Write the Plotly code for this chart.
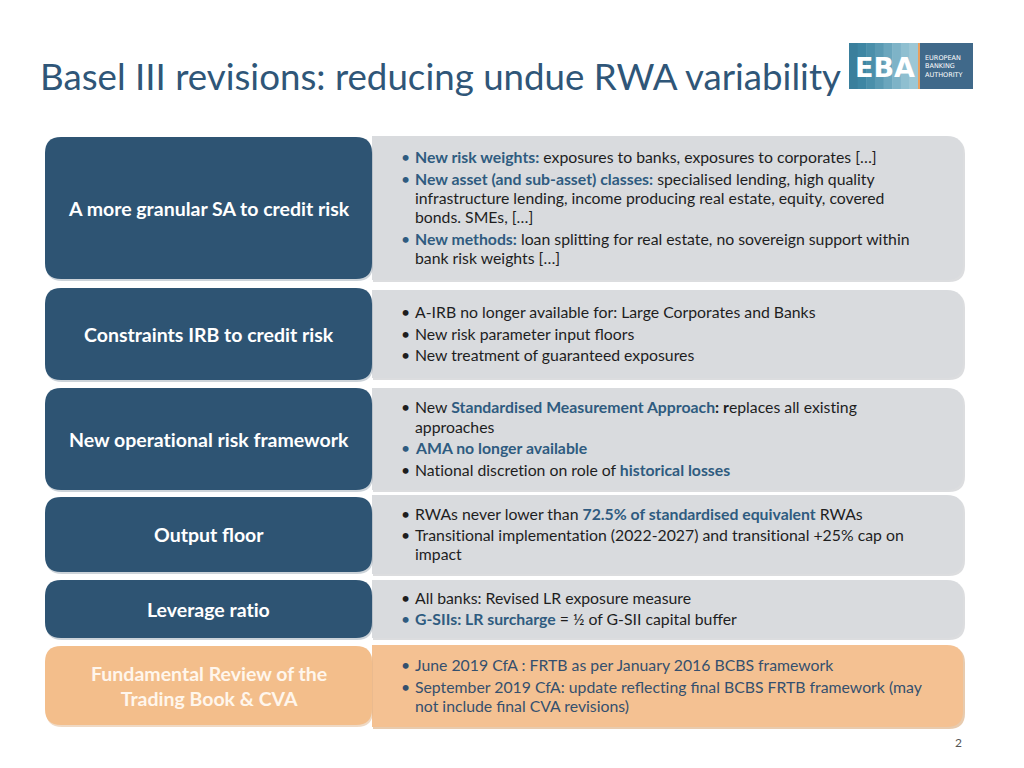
import re
import plotly.graph_objects as go

# ---------------- data ----------------
title_text = "Basel III revisions: reducing undue RWA variability"
page_number = "2"

categories = [
    "A more granular SA to credit risk",
    "Constraints IRB to credit risk",
    "New operational risk framework",
    "Output floor",
    "Leverage ratio",
    "Fundamental Review of the<br>Trading Book & CVA",
]

# [[...]] marks highlighted (bold blue) text
bullets_sa = [
    ["[[New risk weights:]] exposures to banks, exposures to corporates […]"],
    ["[[New asset (and sub-asset) classes:]] specialised lending, high quality",
     "infrastructure lending, income producing real estate, equity, covered",
     "bonds. SMEs, […]"],
    ["[[New methods:]] loan splitting for real estate, no sovereign support within",
     "bank risk weights […]"],
]
bullets_irb = [
    ["A-IRB no longer available for: Large Corporates and Banks"],
    ["New risk parameter input floors"],
    ["New treatment of guaranteed exposures"],
]
bullets_oprisk = [
    ["New [[Standardised Measurement Approach]]<b>: r</b>eplaces all existing",
     "approaches"],
    ["[[AMA no longer available]]"],
    ["National discretion on role of [[historical losses]]"],
]
bullets_floor = [
    ["RWAs never lower than [[72.5% of standardised equivalent]] RWAs"],
    ["Transitional implementation (2022-2027) and transitional +25% cap on",
     "impact"],
]
bullets_lr = [
    ["All banks: Revised LR exposure measure"],
    ["[[G-SIIs: LR surcharge]] = ½ of G-SII capital buffer"],
]
bullets_frtb = [
    ["June 2019 CfA : FRTB as per January 2016 BCBS framework"],
    ["September 2019 CfA: update reflecting final BCBS FRTB framework (may",
     "not include final CVA revisions)"],
]
row_bullets = [bullets_sa, bullets_irb, bullets_oprisk, bullets_floor, bullets_lr, bullets_frtb]

# ---------------- layout / style ----------------
W, H = 1024, 768
PAGE_OFF = 8  # default body margin of the html page
FONT = "Lato"
DARK_BLUE = "#2E5473"
GREY = "#D9DBDE"
ORANGE_L = "#F3BE8B"
ORANGE_R = "#F4C192"
HL_BLUE = "#2F5B80"
BODY = "#1E1E1E"
TITLE_COL = "#2F5678"
BODY_SIZE = 15.8
LABEL_SIZE = 19.5

left_boxes = [(137, 279), (288, 380), (388, 490), (497, 572), (580, 638), (646, 725)]
right_boxes = [(136, 280), (290, 378), (388, 490), (495, 574), (580, 638), (645, 727)]
LX0, LX1 = 45, 372
RX0, RX1 = 372, 963


def nolig(s):
    # break the Lato "ti" ligature
    return s.replace("ti", "t\u200ci")


def rrect(x0, y0, x1, y1, r, left_round=True):
    r = min(r, (y1 - y0) / 2)
    if left_round:
        p = (f"M{x0+r},{y0} L{x1-r},{y0} Q{x1},{y0} {x1},{y0+r} L{x1},{y1-r} Q{x1},{y1} {x1-r},{y1} "
             f"L{x0+r},{y1} Q{x0},{y1} {x0},{y1-r} L{x0},{y0+r} Q{x0},{y0} {x0+r},{y0} Z")
    else:
        p = (f"M{x0},{y0} L{x1-r},{y0} Q{x1},{y0} {x1},{y0+r} L{x1},{y1-r} Q{x1},{y1} {x1-r},{y1} "
             f"L{x0},{y1} Z")
    return p


def markup(s):
    s = re.sub(r"\[\[(.+?)\]\]", lambda m: f"<b><span style='color:{HL_BLUE}'>{m.group(1)}</span></b>", s)
    return nolig(s)


shapes = []
annotations = []

n = len(categories)
for i in range(n):
    orange = i == n - 1
    lt, lb = left_boxes[i]
    rt, rb = right_boxes[i]
    lcol = ORANGE_L if orange else DARK_BLUE
    rcol = ORANGE_R if orange else GREY
    shapes.append(dict(type="path", path=rrect(RX0 + 1, rt + 2, RX1 + 2, rb + 2, 16, False),
                       fillcolor="#C4C6C9" if not orange else "#D8A878", line=dict(width=0), layer="below",
                       xref="x", yref="y", opacity=0.6))
    shapes.append(dict(type="path", path=rrect(RX0, rt, RX1, rb, 16, False),
                       fillcolor=rcol, line=dict(width=0), layer="below", xref="x", yref="y"))
    shapes.append(dict(type="path", path=rrect(LX0 + 1, lt + 2, LX1 + 1, lb + 2, 16),
                       fillcolor="#9AA7B3" if not orange else "#E0B48A", line=dict(width=0), layer="below",
                       xref="x", yref="y", opacity=0.5))
    shapes.append(dict(type="path", path=rrect(LX0, lt, LX1, lb, 16),
                       fillcolor=lcol, line=dict(width=0), layer="below", xref="x", yref="y"))

    annotations.append(dict(x=(LX0 + LX1) / 2, y=(lt + lb) / 2, xref="x", yref="y",
                            text=f"<b>{nolig(categories[i])}</b>", showarrow=False,
                            font=dict(family=FONT, size=LABEL_SIZE, color="white" if not orange else "#FFF6EC"),
                            xanchor="center", yanchor="middle", align="center"))

    bl = row_bullets[i]
    within, between = 19.2, 21.6
    ys = []
    y = 0
    for bi, b in enumerate(bl):
        if bi > 0:
            y += between
        for li, _ in enumerate(b):
            if li > 0:
                y += within
            ys.append(y)
    total = ys[-1]
    cy = (rt + rb) / 2 - 1
    off = cy - total / 2
    k = 0
    txt_col = "#34506E" if orange else BODY
    for b in bl:
        first = True
        for line in b:
            yy = ys[k] + off
            k += 1
            if first:
                bcol = HL_BLUE if line.startswith("[[") else txt_col
                annotations.append(dict(x=405.5, y=yy, xref="x", yref="y", text="•", showarrow=False,
                                        font=dict(family=FONT, size=BODY_SIZE, color=bcol),
                                        xanchor="center", yanchor="middle"))
                first = False
            annotations.append(dict(x=413, y=yy, xref="x", yref="y", text=markup(line),
                                    showarrow=False, font=dict(family=FONT, size=BODY_SIZE, color=txt_col),
                                    xanchor="left", yanchor="middle", align="left"))

annotations.append(dict(x=38, y=76, xref="x", yref="y", text=title_text, showarrow=False,
                        font=dict(family=FONT, size=36.7, color=TITLE_COL), xanchor="left", yanchor="middle"))
annotations.append(dict(x=958, y=742, xref="x", yref="y", text=page_number, showarrow=False,
                        font=dict(family=FONT, size=12, color="#555555"), xanchor="center", yanchor="middle"))

# logo
logo_x0, logo_x1, logo_y0, logo_y1 = 849, 973, 43, 89
grad = ["#3A7F9C", "#3E86A3", "#4A8FAA", "#5A9AB3", "#6BA6BD", "#7EB3C7", "#8FBFD0", "#9CC7D6"]
gw = (918 - logo_x0) / len(grad)
for j, c in enumerate(grad):
    shapes.append(dict(type="rect", x0=logo_x0 + j * gw, x1=logo_x0 + (j + 1) * gw + 0.5, y0=logo_y0, y1=logo_y1,
                       fillcolor=c, line=dict(width=0), xref="x", yref="y", layer="below"))
shapes.append(dict(type="rect", x0=918, x1=920, y0=logo_y0, y1=logo_y1, fillcolor="#E8A060",
                   line=dict(width=0), xref="x", yref="y", layer="below"))
shapes.append(dict(type="rect", x0=920, x1=logo_x1, y0=logo_y0, y1=logo_y1, fillcolor="#40698A",
                   line=dict(width=0), xref="x", yref="y", layer="below"))
annotations.append(dict(x=885, y=67, xref="x", yref="y", text="<b>EBA</b>", showarrow=False,
                        font=dict(family="DejaVu Sans", size=27, color="white"), xanchor="center", yanchor="middle"))
annotations.append(dict(x=923, y=66, xref="x", yref="y", text="EUROPEAN<br>BANKING<br>AUTHORITY", showarrow=False,
                        font=dict(family="DejaVu Sans", size=6.5, color="white"), xanchor="left", yanchor="middle",
                        align="left"))

fig = go.Figure()
fig.update_layout(
    width=W - PAGE_OFF, height=H - PAGE_OFF, margin=dict(l=0, r=0, t=0, b=0),
    paper_bgcolor="white", plot_bgcolor="white",
    xaxis=dict(range=[PAGE_OFF, W], visible=False, fixedrange=True),
    yaxis=dict(range=[H, PAGE_OFF], visible=False, fixedrange=True),
    shapes=shapes, annotations=annotations, showlegend=False,
)
fig.write_html("out.html", config={"displayModeBar": False})
